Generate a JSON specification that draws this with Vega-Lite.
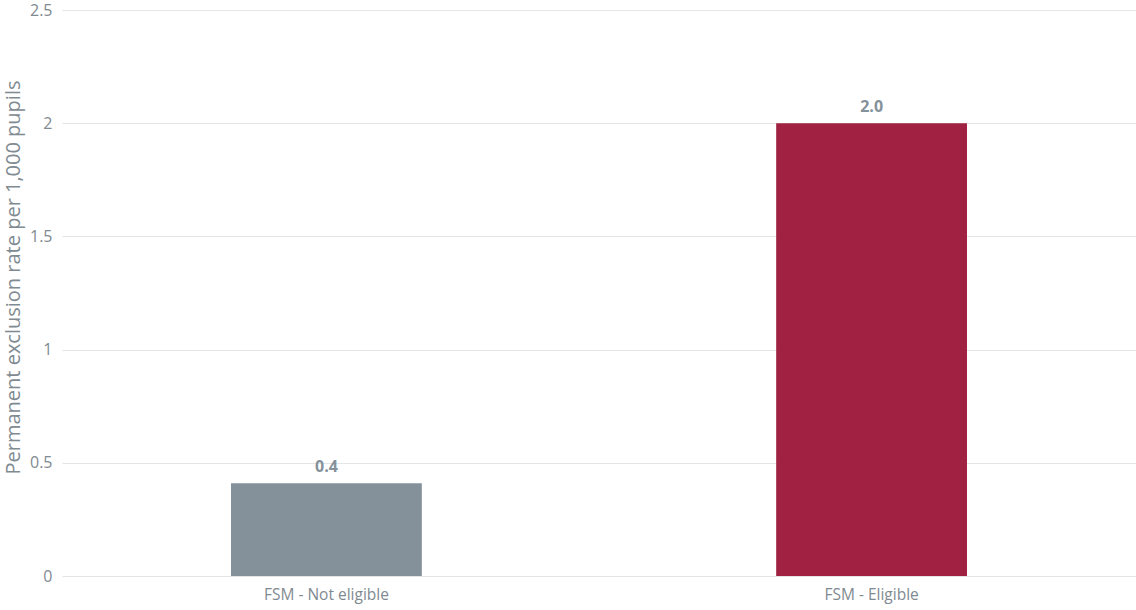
{
  "$schema": "https://vega.github.io/schema/vega-lite/v6.json",
  "width": 1074,
  "height": 566,
  "autosize": {"type": "none"},
  "padding": {"left": 62, "top": 10, "right": 0, "bottom": 34},
  "background": "white",
  "config": {"view": {"stroke": null}, "font": "Open Sans"},
  "data": {"values": [
    {"group": "FSM - Not eligible", "rate": 0.41, "label": "0.4"},
    {"group": "FSM - Eligible", "rate": 2.0, "label": "2.0"}
  ]},
  "encoding": {
    "x": {
      "field": "group", "type": "nominal", "sort": null,
      "scale": {"paddingInner": 0.65, "paddingOuter": 0.31},
      "axis": {"title": null, "labelAngle": 0, "domain": false, "ticks": false, "labelPadding": 11, "labelFontSize": 15.5, "labelColor": "#7f8a91", "labelFont": "Open Sans"}
    },
    "y": {
      "field": "rate", "type": "quantitative",
      "scale": {"domain": [0, 2.5]},
      "axis": {"title": "Permanent exclusion rate per 1,000 pupils", "values": [0, 0.5, 1, 1.5, 2, 2.5], "format": "~g", "domain": false, "ticks": false, "labelPadding": 10, "labelFontSize": 16, "labelColor": "#7f8a91", "titleFontSize": 20, "titleFontWeight": "normal", "titleColor": "#7f8a91", "titlePadding": 6, "titleY": 267, "gridColor": "#e3e5e7", "labelFont": "Open Sans", "titleFont": "Open Sans"}
    }
  },
  "layer": [
    {
      "mark": {"type": "bar"},
      "encoding": {
        "color": {"field": "group", "type": "nominal", "scale": {"domain": ["FSM - Not eligible", "FSM - Eligible"], "range": ["#84919a", "#a12142"]}, "legend": null}
      }
    },
    {
      "mark": {"type": "text", "dy": -16, "fontSize": 16, "fontWeight": "bold", "color": "#84919a", "font": "Open Sans"},
      "encoding": {"text": {"field": "label"}}
    }
  ]
}
